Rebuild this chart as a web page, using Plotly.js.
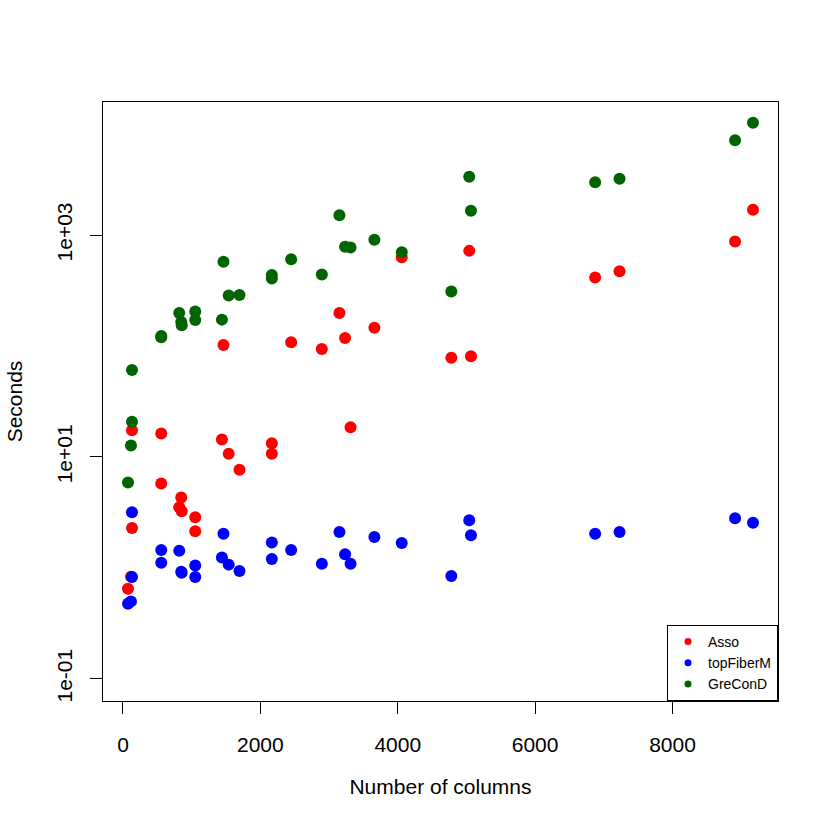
<!DOCTYPE html>
<html>
<head>
<meta charset="utf-8">
<script src="https://cdn.plot.ly/plotly-3.0.1.min.js"></script>
<style>
html,body{margin:0;padding:0;background:#fff;}
#chart{width:830px;height:829px;}
</style>
</head>
<body>
<div id="chart"></div>
<script>
// Number of columns of each dataset
var columns = [73, 116, 131, 131, 557, 557, 819, 848, 855, 1052, 1052, 1440, 1463, 1539, 1696, 2167, 2167, 2448, 2895, 3151, 3233, 3313, 3660, 4058, 4780, 5041, 5066, 6874, 7229, 8911, 9172];
// Seconds per algorithm
var asso = [0.650, 0.834, 17.4, 2.29, 16.3, 5.77, 3.52, 4.31, 3.24, 2.86, 2.14, 14.4, 102, 10.7, 7.66, 13.3, 10.7, 108, 94.1, 199, 118, 18.5, 146, 632, 78.6, 721, 80.8, 415, 473, 877, 1691];
var topFiberM = [0.475, 0.499, 3.17, 0.828, 1.45, 1.11, 1.43, 0.925, 0.906, 1.05, 0.828, 1.24, 2.03, 1.07, 0.938, 1.69, 1.20, 1.45, 1.09, 2.11, 1.33, 1.09, 1.90, 1.68, 0.846, 2.69, 1.97, 2.03, 2.11, 2.80, 2.55];
var greConD = [5.89, 12.7, 20.8, 60.8, 123, 120, 199, 165, 154, 205, 172, 173, 574, 285, 288, 438, 406, 607, 442, 1507, 784, 774, 907, 702, 310, 3357, 1656, 2994, 3222, 7160, 10320];

var seriesNames = ["Asso", "topFiberM", "GreConD"];
var seriesColors = ["#FF0000", "#0000FF", "#006400"];
var seriesValues = [asso, topFiberM, greConD];

var xTicks = [0, 2000, 4000, 6000, 8000];
var yTickVals = [0.1, 10, 1000];
var yTickText = ["1e-01", "1e+01", "1e+03"];

var FONT = "Liberation Sans, Arial, Helvetica, sans-serif";

var traces = [];
for (var i = 0; i < 3; i++) {
  traces.push({
    type: "scatter", mode: "markers",
    x: columns, y: seriesValues[i],
    name: seriesNames[i], showlegend: false,
    marker: {color: seriesColors[i], size: 12, line: {width: 0}},
    hoverinfo: "x+y+name"
  });
}
// legend entries with small symbols
for (var j = 0; j < 3; j++) {
  traces.push({
    type: "scatter", mode: "markers",
    x: [null], y: [null],
    name: seriesNames[j], showlegend: true,
    marker: {color: seriesColors[j], size: 7, line: {width: 0}}
  });
}

var layout = {
  width: 830, height: 829,
  margin: {l: 103, r: 52, t: 102, b: 128},
  paper_bgcolor: "#ffffff", plot_bgcolor: "#ffffff",
  font: {family: FONT, size: 21, color: "#000000"},
  showlegend: true,
  legend: {
    x: 1, y: 0, xanchor: "right", yanchor: "bottom",
    bordercolor: "#000000", borderwidth: 1, bgcolor: "#ffffff",
    font: {family: FONT, size: 14, color: "#000000"},
    itemwidth: 30, tracegroupgap: 0
  },
  xaxis: {
    range: [-291, 9536], autorange: false,
    tickmode: "array", tickvals: xTicks,
    ticks: "outside", ticklen: 12, tickwidth: 1, tickcolor: "#000000",
    showline: true, mirror: true, linecolor: "#000000", linewidth: 1,
    showgrid: false, zeroline: false,
    tickfont: {family: FONT, size: 21, color: "#000000"},
    ticklabelstandoff: 13,
    title: {text: "Number of columns", font: {family: FONT, size: 21, color: "#000000"}, standoff: 24}
  },
  yaxis: {
    type: "log", range: [-1.2, 4.2], autorange: false,
    tickmode: "array", tickvals: yTickVals, ticktext: yTickText,
    ticks: "outside", ticklen: 12, tickwidth: 1, tickcolor: "#000000",
    showline: true, mirror: true, linecolor: "#000000", linewidth: 1,
    showgrid: false, zeroline: false, tickangle: -90,
    tickfont: {family: FONT, size: 21, color: "#000000"},
    ticklabelstandoff: 10,
    title: {text: "Seconds", font: {family: FONT, size: 21, color: "#000000"}, standoff: 24}
  }
};

Plotly.newPlot("chart", traces, layout, {displayModeBar: false, staticPlot: true});
</script>
</body>
</html>
